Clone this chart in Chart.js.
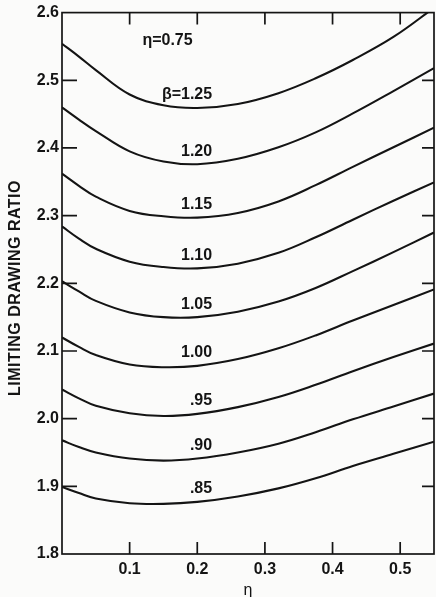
<!DOCTYPE html>
<html>
<head>
<meta charset="utf-8">
<script src="https://cdn.jsdelivr.net/npm/chart.js@4"></script>
<style>
html,body{margin:0;padding:0;background:#fbfbfa;}
canvas{display:block;}
</style>
</head>
<body>
<canvas id="c" width="436" height="597"></canvas>
<script>
// ---- data ----
const etaValues = [0, 0.025, 0.05, 0.1, 0.15, 0.2, 0.26, 0.32, 0.375, 0.43, 0.49, 0.55];
const betaLabels = ["β=1.25", "1.20", "1.15", "1.10", "1.05", "1.00", ".95", ".90", ".85"];
const b125 = [2.554, 2.535, 2.515, 2.479, 2.463, 2.459, 2.465, 2.481, 2.503, 2.530, 2.564, 2.607];
const b120 = [2.460, 2.442, 2.425, 2.395, 2.380, 2.376, 2.384, 2.401, 2.423, 2.451, 2.484, 2.518];
const b115 = [2.362, 2.344, 2.328, 2.307, 2.299, 2.297, 2.304, 2.321, 2.345, 2.372, 2.401, 2.430];
const b110 = [2.284, 2.266, 2.251, 2.232, 2.224, 2.222, 2.229, 2.245, 2.268, 2.294, 2.322, 2.349];
const b105 = [2.203, 2.188, 2.174, 2.157, 2.150, 2.150, 2.158, 2.173, 2.193, 2.218, 2.246, 2.275];
const b100 = [2.120, 2.106, 2.094, 2.080, 2.076, 2.078, 2.088, 2.104, 2.123, 2.145, 2.168, 2.191];
const b095 = [2.043, 2.030, 2.019, 2.008, 2.004, 2.007, 2.017, 2.032, 2.050, 2.070, 2.091, 2.111];
const b090 = [1.968, 1.958, 1.950, 1.941, 1.938, 1.941, 1.950, 1.963, 1.980, 1.999, 2.018, 2.037];
const b085 = [1.899, 1.890, 1.882, 1.875, 1.874, 1.877, 1.885, 1.897, 1.912, 1.930, 1.948, 1.966];
const seriesList = [b125, b120, b115, b110, b105, b100, b095, b090, b085];
const yTickValues = [1.8, 1.9, 2.0, 2.1, 2.2, 2.3, 2.4, 2.5, 2.6];
const xTickValues = [0.1, 0.2, 0.3, 0.4, 0.5];
const etaNote = "η=0.75";
const yTitle = "LIMITING DRAWING RATIO";
const xTitle = "η";

// ---- chart ----
const INK = "#141414";
const FONT = "'Liberation Sans', Arial, sans-serif";

const datasets = seriesList.map((s, i) => ({
  label: betaLabels[i],
  data: etaValues.map((x, j) => ({x: x, y: s[j]})),
  borderColor: INK,
  borderWidth: 2.1,
  pointRadius: 0,
  fill: false,
  tension: 0.4
}));

const decor = {
  id: 'decor',
  beforeDraw(chart) {
    const c = chart.ctx;
    c.save();
    c.fillStyle = '#fbfbfa';
    c.fillRect(0, 0, chart.width, chart.height);
    c.restore();
  },
  afterDraw(chart) {
    const c = chart.ctx;
    const a = chart.chartArea;
    const xs = chart.scales.x, ys = chart.scales.y;
    c.save();
    c.strokeStyle = INK;
    c.lineWidth = 1.7;
    c.strokeRect(a.left, a.top, a.right - a.left, a.bottom - a.top);
    c.beginPath();
    yTickValues.forEach(v => {
      if (v <= 1.8 || v >= 2.6) return;
      const y = ys.getPixelForValue(v);
      c.moveTo(a.left, y); c.lineTo(a.left + 15, y);
      c.moveTo(a.right, y); c.lineTo(a.right - 12, y);
    });
    xTickValues.forEach(v => {
      const x = xs.getPixelForValue(v);
      c.moveTo(x, a.bottom); c.lineTo(x, a.bottom - 12);
      c.moveTo(x, a.top); c.lineTo(x, a.top + 12);
    });
    c.stroke();

    // curve labels
    c.fillStyle = INK;
    c.font = "bold 16px " + FONT;
    c.textAlign = 'right';
    c.textBaseline = 'middle';
    seriesList.forEach((s, i) => {
      const y = ys.getPixelForValue(s[5]) - 13;
      c.fillText(betaLabels[i], xs.getPixelForValue(0.222), y);
    });
    c.textAlign = 'center';
    c.fillText(etaNote, xs.getPixelForValue(0.156), ys.getPixelForValue(2.559));

    // axis titles
    c.font = "bold 16px " + FONT;
    c.save();
    c.translate(16, 288);
    c.rotate(-Math.PI / 2);
    c.textAlign = 'center';
    c.textBaseline = 'middle';
    try { c.letterSpacing = '0.5px'; } catch (e) {}
    c.fillText(yTitle, 0, 0);
    c.restore();
    c.font = "16px " + FONT;
    c.textAlign = 'center';
    c.textBaseline = 'top';
    c.fillText(xTitle, (a.left + a.right) / 2, 583);
    c.restore();
  }
};

new Chart(document.getElementById('c'), {
  type: 'line',
  data: { datasets: datasets },
  options: {
    responsive: false,
    animation: false,
    devicePixelRatio: 1,
    layout: { padding: { top: 12, right: 2, left: 0, bottom: 0 } },
    plugins: { legend: { display: false }, tooltip: { enabled: false } },
    scales: {
      x: {
        type: 'linear',
        min: 0, max: 0.55,
        grid: { display: false, drawTicks: false },
        border: { display: false },
        afterBuildTicks: s => { s.ticks = xTickValues.map(v => ({value: v})); },
        afterFit: s => { s.height = 43; },
        ticks: {
          color: INK, padding: 6,
          font: { family: FONT, size: 16, weight: 'bold' },
          callback: v => v.toFixed(1)
        }
      },
      y: {
        type: 'linear',
        min: 1.8, max: 2.6,
        grid: { display: false, drawTicks: false },
        border: { display: false },
        afterBuildTicks: s => { s.ticks = yTickValues.map(v => ({value: v})); },
        afterFit: s => { s.width = 62; },
        ticks: {
          color: INK, padding: 3,
          font: { family: FONT, size: 16, weight: 'bold' },
          callback: v => v.toFixed(1)
        }
      }
    }
  },
  plugins: [decor]
});
</script>
</body>
</html>
